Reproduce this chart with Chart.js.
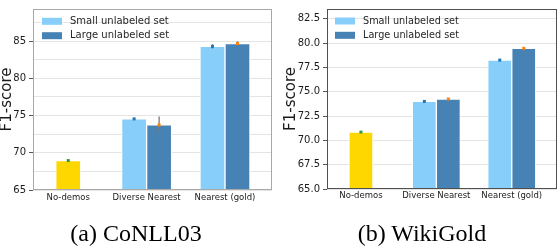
<!DOCTYPE html>
<html>
<head>
<meta charset="utf-8">
<script src="https://cdn.jsdelivr.net/npm/chart.js@4"></script>
<style>
body{margin:0;width:560px;height:246px;position:relative;background:#fff;overflow:hidden}
canvas{position:absolute;top:0}
.cap{position:absolute;top:221px;width:280px;text-align:center;font-family:'Liberation Serif';font-size:24px;line-height:24px;color:#000}
</style>
</head>
<body>
<canvas id="conll" width="280" height="246" style="left:0"></canvas>
<canvas id="wiki" width="280" height="246" style="left:280px"></canvas>
<div class="cap" style="left:-4px">(a) CoNLL03</div>
<div class="cap" style="left:282px">(b) WikiGold</div>
<script>
var categories = ['No-demos', 'Diverse Nearest', 'Nearest (gold)'];
var seriesNames = ['No demos', 'Small unlabeled set', 'Large unlabeled set'];

//CoNLL03
var conllNoDemos = [68.95, null, null];
var conllSmall = [null, 74.55, 84.28];
var conllLarge = [null, 73.74, 84.67];
var conllNoDemosErr = [0.08, null, null];
var conllSmallErr = [null, 0.08, 0.3];
var conllLargeErr = [null, 1.12, 0.3];

//WikiGold
var wikiNoDemos = [70.85, null, null];
var wikiSmall = [null, 74.0, 78.25];
var wikiLarge = [null, 74.25, 79.45];
var wikiNoDemosErr = [0.05, null, null];
var wikiSmallErr = [null, 0.05, 0.05];
var wikiLargeErr = [null, 0.05, 0.05];

var barColors = ['#FFD700', '#87CEFA', '#4682B4'];
var errColors = ['#2ca02c', '#1f77b4', '#ff7f0e'];

function points(vals) {
  return vals.map(function (v, i) { return {x: i, y: v}; });
}

var frame = {
  id: 'frame',
  afterDraw: function (chart, args, opts) {
    var a = chart.chartArea, ctx = chart.ctx;
    ctx.save();
    ctx.strokeStyle = opts.color;
    ctx.lineWidth = 1;
    ctx.strokeRect(Math.round(a.left) + 0.5, Math.round(a.top) + 0.5,
      Math.round(a.right - a.left) - 1, Math.round(a.bottom - a.top) - 1);
    ctx.restore();
  }
};

var errorBars = {
  id: 'errorBars',
  afterDatasetsDraw: function (chart) {
    var ctx = chart.ctx, y = chart.scales.y;
    ctx.save();
    chart.data.datasets.forEach(function (ds, d) {
      var meta = chart.getDatasetMeta(d);
      ds.errors.forEach(function (e, i) {
        var v = ds.data[i].y;
        if (v === null || e === null) return;
        var x = meta.data[i].x;
        ctx.strokeStyle = '#7a7a7a';
        ctx.lineWidth = 1.3;
        ctx.beginPath();
        ctx.moveTo(x, y.getPixelForValue(v + e));
        ctx.lineTo(x, y.getPixelForValue(v - e));
        ctx.stroke();
        ctx.fillStyle = ds.errColor;
        ctx.fillRect(x - 1.5, y.getPixelForValue(v) - 1.5, 3, 3);
      });
    });
    ctx.restore();
  }
};

var boxLegend = {
  id: 'boxLegend',
  afterDraw: function (chart, args, opts) {
    var a = chart.chartArea, ctx = chart.ctx;
    ctx.save();
    ctx.font = opts.size + 'px "DejaVu Sans"';
    ctx.textBaseline = 'middle';
    chart.data.datasets.slice(1).forEach(function (ds, i) {
      var cy = a.top + opts.top + i * opts.step;
      ctx.fillStyle = ds.backgroundColor;
      ctx.fillRect(a.left + opts.left, cy - 3.5, 20, 7);
      ctx.fillStyle = '#262626';
      ctx.fillText(ds.label, a.left + opts.left + 28, cy);
    });
    ctx.restore();
  }
};

function makeChart(id, sets, errs, o) {
  var datasets = sets.map(function (vals, k) {
    return {
      label: seriesNames[k],
      data: points(vals),
      errors: errs[k],
      errColor: errColors[k],
      backgroundColor: barColors[k],
      borderColor: '#ffffff',
      borderWidth: 1,
      borderSkipped: 'bottom',
      barThickness: o.bar,
      skipNull: true
    };
  });
  return new Chart(document.getElementById(id), {
    type: 'bar',
    data: {datasets: datasets},
    plugins: [frame, errorBars, boxLegend],
    options: {
      responsive: false,
      animation: false,
      layout: {padding: {left: 0, right: o.padRight, top: o.padTop, bottom: 0}},
      plugins: {
        legend: {display: false},
        tooltip: {enabled: false},
        frame: {color: o.frame},
        boxLegend: o.legend
      },
      scales: {
        x: {
          type: 'linear',
          min: -0.45,
          max: 2.6,
          offset: false,
          bounds: 'data',
          grid: {display: false, drawTicks: false, tickLength: 0},
          border: {display: false},
          afterBuildTicks: function (s) { s.ticks = categories.map(function (c, i) { return {value: i}; }); },
          afterFit: function (s) { s.height = o.xHeight; },
          ticks: {
            callback: function (v) { return categories[v]; },
            font: {family: 'DejaVu Sans', size: 8.5},
            color: '#1a1a1a',
            padding: o.xPad,
            maxRotation: 0
          }
        },
        y: {
          min: 65,
          max: o.yMax,
          border: {display: false},
          afterFit: function (s) { s.width = o.yWidth; },
          grid: {
            color: '#e4e4e4',
            tickLength: 4,
            tickColor: function (c) { return (c.tick && c.tick.value % o.labelStep === 0) ? '#555' : 'rgba(0,0,0,0)'; }
          },
          ticks: {
            stepSize: 2.5,
            includeBounds: false,
            padding: 3,
            color: '#1a1a1a',
            font: {family: 'DejaVu Sans', size: 10},
            callback: function (v) { return v % o.labelStep === 0 ? v.toFixed(o.decimals) : ''; }
          },
          title: {
            display: true,
            text: 'F1-score',
            color: '#1a1a1a',
            font: {family: 'DejaVu Sans', size: 15, lineHeight: 1},
            padding: {top: o.titlePad, bottom: 0}
          }
        }
      }
    }
  });
}

makeChart('conll', [conllNoDemos, conllSmall, conllLarge], [conllNoDemosErr, conllSmallErr, conllLargeErr], {
  bar: 25, padRight: 8, padTop: 1, xHeight: 56, xPad: 3, yMax: 89.3, yWidth: 33,
  labelStep: 5, decimals: 0, titlePad: 0, frame: '#a8a8a8',
  legend: {left: 9, top: 12.3, step: 14.4, size: 10}
});

makeChart('wiki', [wikiNoDemos, wikiSmall, wikiLarge], [wikiNoDemosErr, wikiSmallErr, wikiLargeErr], {
  bar: 24, padRight: 3, padTop: 4, xHeight: 57, xPad: 2, yMax: 83.5, yWidth: 47,
  labelStep: 2.5, decimals: 1, titlePad: 4, frame: '#505050',
  legend: {left: 8, top: 12, step: 14.3, size: 9.7}
});
</script>
</body>
</html>
